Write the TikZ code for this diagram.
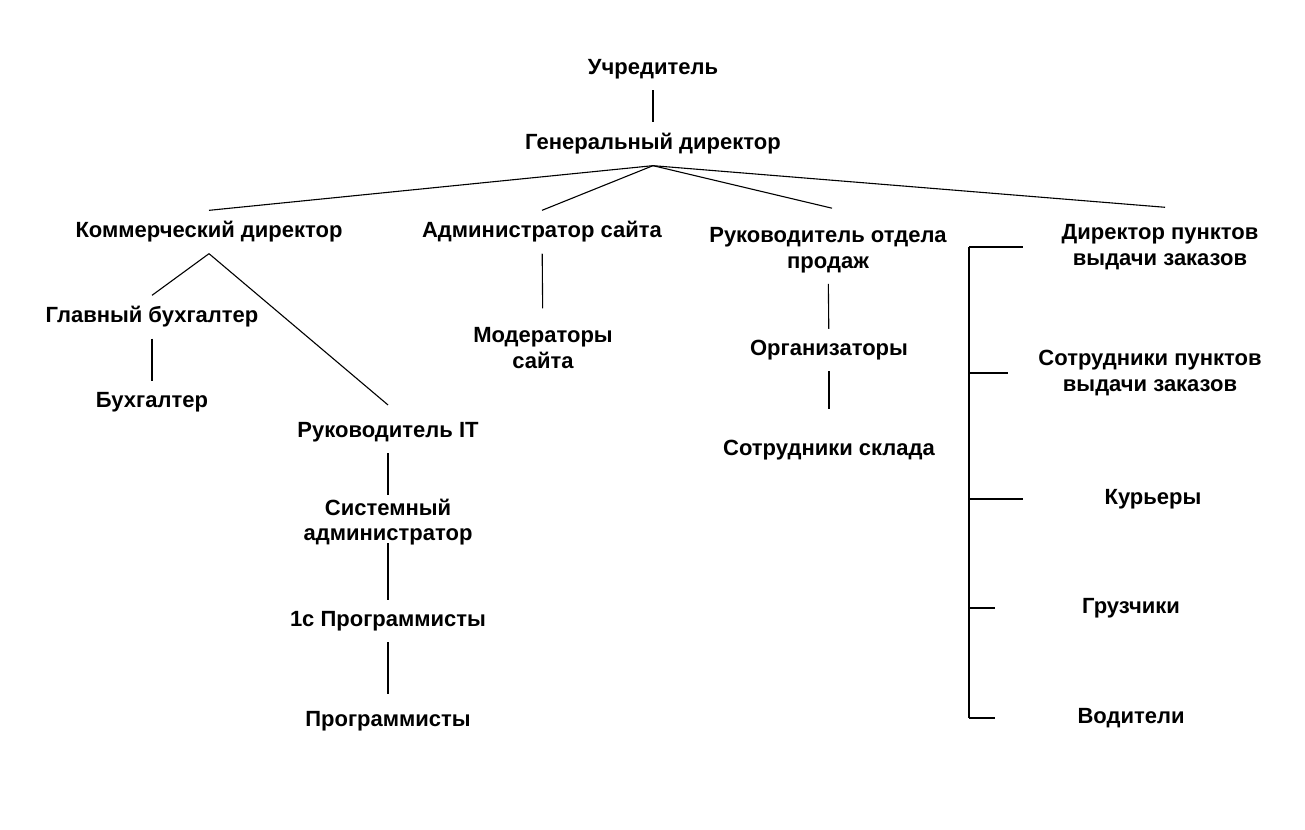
\documentclass[tikz,border=0pt]{standalone}
\usepackage{fontspec}
\setmainfont{Liberation Sans}
\usetikzlibrary{positioning,calc}

\begin{document}
\begin{tikzpicture}[
  x=1pt, y=-1pt,
  lbl/.style={font=\fontsize{22}{25.5}\selectfont\bfseries, align=center,
    inner xsep=4pt, inner ysep=11pt, yshift=-2pt},
  e/.style={draw=black, line width=1.1pt},
]
\useasboundingbox[fill=white] (0,0) rectangle (1305,829);
% top of the tree
\node[lbl] (uchr) at (653,67) {Учредитель};
\node[lbl] (gen) at (653,142) {Генеральный директор};
% second row
\node[lbl] (komm) at (209,230) {Коммерческий директор};
\node[lbl] (adm) at (542,230) {Администратор сайта};
\node[lbl] (rop) at (828,248) {Руководитель отдела\\продаж};
\node[lbl, minimum width=274] (dpvz) at (1160,245) {Директор пунктов\\выдачи заказов};
% commercial branch
\node[lbl] (glb) at (152,315) {Главный бухгалтер};
\node[lbl] (buh) at (152,400) {Бухгалтер};
\node[lbl] (rit) at (388,430) {Руководитель IT};
\node[lbl] (sys) at (388,520) {Системный\\администратор};
\node[lbl] (prog1c) at (388,619) {1с Программисты};
\node[lbl] (prog) at (388,719) {Программисты};
% site and sales branches
\node[lbl] (mod) at (543,346) {Модераторы\\сайта};
\node[lbl] (org) at (829,348) {Организаторы};
\node[lbl] (skl) at (829,448) {Сотрудники склада};
% pick-up points branch
\node[lbl, minimum width=284] (spvz) at (1150,371) {Сотрудники пунктов\\выдачи заказов};
\node[lbl, minimum width=260] (kur) at (1153,497) {Курьеры};
\node[lbl, minimum width=272] (gruz) at (1131,606) {Грузчики};
\node[lbl, minimum width=272] (vod) at (1131,716) {Водители};
\coordinate (bus) at (969,0);
% edges
\draw[e] (uchr) -- (gen);
\draw[e] (gen.south) -- (komm.north);
\draw[e] (gen.south) -- (adm.north);
\draw[e] (gen.south) -- ([xshift=4pt,yshift=8pt]rop.north);
\draw[e] (gen.south) -- ([xshift=5pt,yshift=6pt]dpvz.north);
\draw[e] (komm.south) -- (glb.north);
\draw[e] (komm.south) -- ([yshift=6pt]rit.north);
\draw[e] (glb) -- (buh);
\draw[e, shorten >=-7pt] (rit) -- (sys);
\draw[e, shorten <=-13pt] (sys) -- (prog1c);
\draw[e, shorten >=6pt] (prog1c) -- (prog);
\draw[e, shorten >=8pt] (adm) -- (mod);
\draw[e] (rop) -- (org);
\draw[e, shorten >=20pt] (org) -- (skl);
% bracket of the pick-up points
\draw[e] (bus |- dpvz.west) -- (bus |- vod.west);
\foreach \n in {dpvz,spvz,kur,gruz,vod}
  \draw[e] (bus |- \n.west) -- (\n.west);
\end{tikzpicture}
\end{document}
